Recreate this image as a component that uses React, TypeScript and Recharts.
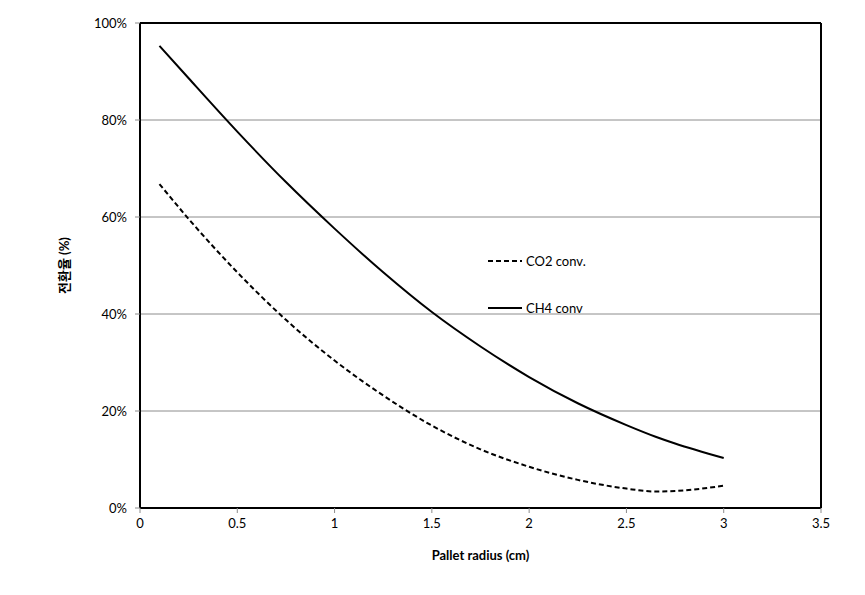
import { LineChart, Line, XAxis, YAxis, CartesianGrid } from 'recharts'

const radius = [0.1, 0.25, 0.5, 0.75, 1.0, 1.25, 1.5, 1.75, 2.0, 2.25, 2.5, 2.65, 2.75, 3.0]
const co2Conv = [66.8, 59.6, 48.6, 38.8, 30.4, 23.2, 17.0, 12.1, 8.5, 5.8, 4.0, 3.4, 3.5, 4.6]
const ch4Conv = [95.3, 88.6, 77.6, 67.2, 57.6, 48.6, 40.4, 33.3, 27.0, 21.6, 17.1, 14.7, 13.3, 10.3]
const xTicks = [0, 0.5, 1, 1.5, 2, 2.5, 3, 3.5]
const yTicks = [0, 20, 40, 60, 80, 100]

const data = radius.map((r, i) => ({ r, co2: co2Conv[i], ch4: ch4Conv[i] }))

const FONT = 'Lato, "Noto Sans CJK KR", sans-serif'
const tickStyle = { fontSize: 13, fill: '#000', fontFamily: FONT }

// legend drawn as an overlay so it doesn't steal plot space
function LegendBox() {
  const items = [
    { name: 'CO2 conv.', dash: '5 3' },
    { name: 'CH4 conv', dash: undefined },
  ]
  return (
    <div style={{ position: 'absolute', left: 488, top: 251, fontFamily: FONT, fontSize: 13, color: '#000' }}>
      {items.map((it) => (
        <div key={it.name} style={{ display: 'flex', alignItems: 'center', height: 20, marginBottom: 27 }}>
          <svg width={38} height={10}>
            <line x1={0} y1={5} x2={34} y2={5} stroke="#000" strokeWidth={2} strokeDasharray={it.dash} />
          </svg>
          <span>{it.name}</span>
        </div>
      ))}
    </div>
  )
}

export default function App() {
  return (
    <div style={{ position: 'absolute', left: 0, top: 0, width: 865, height: 595, background: '#fff' }}>
      <LineChart width={865} height={595} data={data} margin={{ top: 0, right: 0, bottom: 27, left: 0 }}>
        <CartesianGrid vertical={false} stroke="#8c8c8c" strokeWidth={1} yAxisId="left" />
        <XAxis
          xAxisId="bottom"
          dataKey="r"
          type="number"
          domain={[0, 3.5]}
          ticks={xTicks}
          height={60}
          axisLine={{ stroke: '#000', strokeWidth: 2 }}
          tickLine={{ stroke: '#8c8c8c' }}
          tickSize={5}
          tickMargin={6}
          tick={tickStyle}
          label={{ value: 'Pallet radius (cm)', position: 'insideBottom', offset: 8, style: { fontSize: 13, fontWeight: 700, fill: '#000', fontFamily: FONT } }}
        />
        <XAxis xAxisId="top" orientation="top" type="number" domain={[0, 3.5]} height={23} axisLine={{ stroke: '#000', strokeWidth: 2 }} tick={false} tickLine={false} />
        <YAxis
          yAxisId="left"
          type="number"
          domain={[0, 100]}
          ticks={yTicks}
          width={140}
          tickFormatter={(v) => `${v}%`}
          axisLine={{ stroke: '#000', strokeWidth: 2 }}
          tickLine={{ stroke: '#8c8c8c' }}
          tickSize={5}
          tickMargin={8}
          tick={tickStyle}
          label={{ value: '전환율 (%)', angle: -90, position: 'insideLeft', offset: 64, style: { fontSize: 13, fontWeight: 700, fill: '#000', fontFamily: FONT, textAnchor: 'middle' } }}
        />
        <YAxis yAxisId="right" orientation="right" domain={[0, 100]} width={44} axisLine={{ stroke: '#000', strokeWidth: 2 }} tick={false} tickLine={false} />
        <Line xAxisId="bottom" yAxisId="left" dataKey="co2" name="CO2 conv." type="monotone" stroke="#000" strokeWidth={2} strokeDasharray="5 3" dot={false} isAnimationActive={false} />
        <Line xAxisId="bottom" yAxisId="left" dataKey="ch4" name="CH4 conv" type="monotone" stroke="#000" strokeWidth={2} dot={false} isAnimationActive={false} />
      </LineChart>
      <LegendBox />
    </div>
  )
}
